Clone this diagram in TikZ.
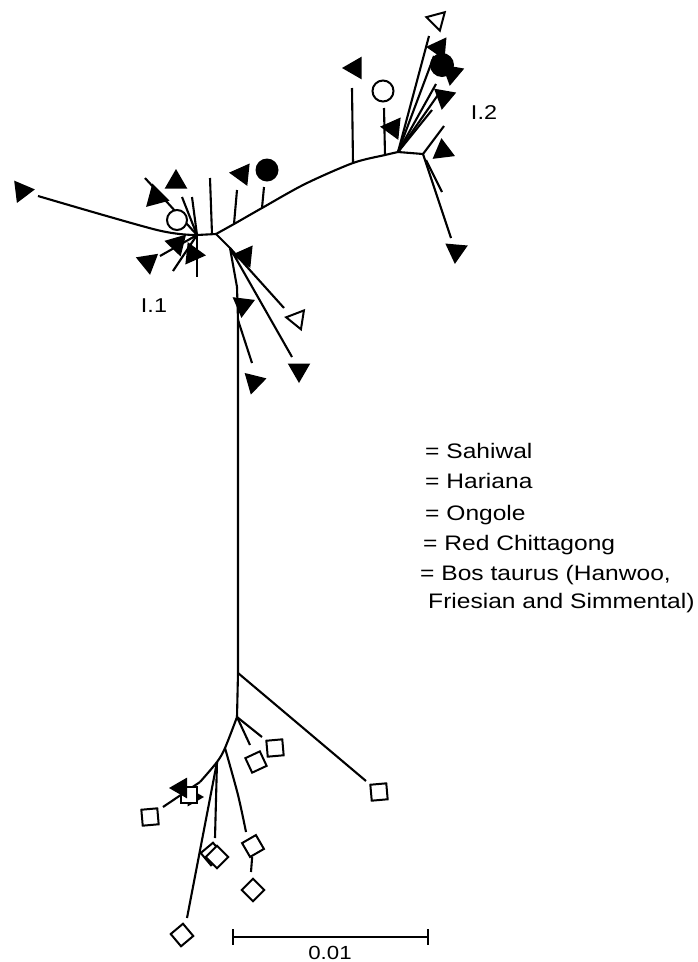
\documentclass[tikz,border=0pt]{standalone}
\usepackage{fontspec}
\setmainfont{Liberation Sans}
\usetikzlibrary{shapes.geometric}
\begin{document}
\begin{tikzpicture}[x=1pt,y=-1pt,
  br/.style={line width=2.1pt},
  tri/.style={regular polygon, regular polygon sides=3, minimum size=26pt, inner sep=0pt, fill=black},
  otri/.style={regular polygon, regular polygon sides=3, minimum size=22pt, inner sep=0pt, draw=black, line width=2pt, fill=white},
  fcirc/.style={circle, fill=black, minimum size=23pt, inner sep=0pt},
  ocirc/.style={circle, draw=black, line width=2pt, fill=white, minimum size=20pt, inner sep=0pt},
  osq/.style={rectangle, draw=black, line width=2pt, fill=white, minimum size=16pt, inner sep=0pt},
  leg/.style={font=\fontsize{21}{25}\selectfont, inner sep=0pt, xscale=1.17, anchor=base west},
  lab/.style={font=\fontsize{20}{24}\selectfont, inner sep=0pt, xscale=1.17}
]
\useasboundingbox (0,0) rectangle (697,962);
% ---------- coordinates: cluster I.1 ----------
\coordinate (a) at (197,235);
\coordinate (b) at (216,234);
\coordinate (l1m) at (157,230);
\coordinate (l1) at (38,196);
\coordinate (l2) at (145,178);
\coordinate (l3) at (182,197);
\coordinate (l4) at (192,197);
\coordinate (l5) at (160,256);
\coordinate (l6) at (173,271);
\coordinate (l7) at (197,277);
\coordinate (l8b) at (212,234);
\coordinate (l8) at (210,178);
% ---------- branch towards I.2 ----------
\coordinate (u1) at (234,224);
\coordinate (u1e) at (237,190);
\coordinate (u2) at (262,208);
\coordinate (u2e) at (264,187);
\coordinate (u2m) at (305,184);
\coordinate (u3) at (353,163);
\coordinate (u3e) at (352,88);
\coordinate (u4) at (385,155);
\coordinate (u4e) at (384,108);
\coordinate (h2) at (398,152);
\coordinate (h3) at (423,154);
\coordinate (m1) at (429,36);
\coordinate (m2) at (434,56);
\coordinate (m3) at (436,84);
\coordinate (m4) at (440,92);
\coordinate (m5) at (432,110);
\coordinate (n1) at (444,126);
\coordinate (n2) at (451,238);
\coordinate (n3s) at (426,160);
\coordinate (n3) at (442,192);
% ---------- trunk ----------
\coordinate (d1) at (230,248);
\coordinate (d2) at (237,287);
\coordinate (d3) at (238,320);
\coordinate (d4) at (238,673);
\coordinate (k1) at (284,308);
\coordinate (k2) at (292,357);
\coordinate (k3) at (252,363);
% ---------- bottom cluster ----------
\coordinate (e1) at (237,717);
\coordinate (e0) at (366,781);
\coordinate (e2) at (262,737);
\coordinate (e3) at (250,745);
\coordinate (f1) at (225,748);
\coordinate (f2) at (217,762);
\coordinate (f3) at (200,782);
\coordinate (g1) at (163,807);
\coordinate (g2) at (215,838);
\coordinate (g3) at (187,918);
\coordinate (g4m) at (238,795);
\coordinate (g4) at (246,832);
\coordinate (g5) at (251,872);
% ---------- branches ----------
\draw[br] plot[smooth] coordinates {(l1) (l1m) (a)};
\draw[br] (a) -- (l2);
\draw[br] (a) -- (l3);
\draw[br] (a) -- (l4);
\draw[br] (a) -- (l5);
\draw[br] (a) -- (l6);
\draw[br] (a) -- (l7);
\draw[br] (a) -- (b);
\draw[br] (l8b) -- (l8);
\draw[br] plot[smooth, tension=0.5] coordinates {(b) (u1) (u2) (u2m) (u3) (u4) (h2)};
\draw[br] (h2) -- (h3);
\draw[br] (u1) -- (u1e);
\draw[br] (u2) -- (u2e);
\draw[br] (u3) -- (u3e);
\draw[br] (u4) -- (u4e);
\draw[br] (h2) -- (m1);
\draw[br] (h2) -- (m2);
\draw[br] (h2) -- (m3);
\draw[br] (h2) -- (m4);
\draw[br] (h2) -- (m5);
\draw[br] (h3) -- (n1);
\draw[br] (h3) -- (n2);
\draw[br] (n3s) -- (n3);
\draw[br] (b) -- (d1) -- (d2) -- (d3) -- (d4) -- (e1);
\draw[br] (d1) -- (k1);
\draw[br] (d1) -- (k2);
\draw[br] (d3) -- (k3);
\draw[br] (d4) -- (e0);
\draw[br] (e1) -- (e2);
\draw[br] (e1) -- (e3);
\draw[br] plot[smooth] coordinates {(e1) (f1) (f2) (f3)};
\draw[br] (f3) -- (g1);
\draw[br] (f2) -- (g2);
\draw[br] (f2) -- (g3);
\draw[br] plot[smooth] coordinates {(f1) (g4m) (g4)};
% ---------- markers I.1 ----------
\node[tri, rotate=-83] (t1) at (22,191) {};
\node[tri, rotate=0] (t2) at (176,182) {};
\node[tri, rotate=-105, minimum size=28pt] (t3) at (156,197) {};
\node[ocirc] (c1) at (177,220) {};
\node[tri, rotate=76] (t4) at (177,244) {};
\node[tri, rotate=-96] (t5) at (193,254) {};
\node[tri, rotate=-171] (t6) at (148,262) {};
\node[tri, rotate=84] (t7) at (242,174) {};
\node[fcirc] (c2) at (267,170) {};
\node[tri, rotate=84] (t8) at (245,256) {};
\node[tri, rotate=173] (t9) at (243,305) {};
\node[otri, rotate=81] (t10) at (297,319) {};
\node[tri, rotate=180] (t11) at (299,370) {};
\node[tri, rotate=166] (t12) at (254,382) {};
% ---------- markers I.2 ----------
\node[tri, rotate=90] (t13) at (355,68) {};
\node[ocirc, minimum size=21pt] (c3) at (383,91) {};
\node[tri, rotate=84] (t14) at (393,128) {};
\node[otri, rotate=-165] (t15) at (437,20) {};
\node[tri, rotate=85] (t16) at (439,48) {};
\node[tri, rotate=170] (t17) at (452,73) {};
\node[fcirc, minimum size=24pt] (c4) at (442,65) {};
\node[tri, rotate=170] (t18) at (444,97) {};
\node[tri, rotate=-113] (t19) at (443,151) {};
\node[tri, rotate=175] (t20) at (456,251) {};
% ---------- markers bottom ----------
\node[tri, rotate=-90, minimum size=22pt] (t22) at (193,797) {};
\node[osq] (s4) at (189,795) {};
\node[tri, rotate=90, minimum size=24pt] (t21) at (181,788) {};
\node[osq, rotate=5] (s1) at (379,792) {};
\node[osq, rotate=5] (s2) at (275,748) {};
\node[osq, rotate=25] (s3) at (256,762) {};
\node[osq, rotate=5] (s5) at (150,817) {};
\node[osq, rotate=40] (d1a) at (212,854) {};
\node[osq, rotate=45] (d1b) at (217,857) {};
\node[osq, rotate=30] (dd2) at (253,846) {};
\node[osq, rotate=45] (dd3) at (253,890) {};
\node[osq, rotate=40] (dd4) at (182,935) {};
\draw[br] (dd2) -- (g5);
% ---------- labels ----------
\node[lab] (lab1) at (154,306) {I.1};
\node[lab] (lab2) at (484,113) {I.2};
% ---------- legend ----------
\node[leg] (lg1) at (425,458) {= Sahiwal};
\node[leg] (lg2) at (425,488) {= Hariana};
\node[leg] (lg3) at (425,520) {= Ongole};
\node[leg] (lg4) at (423,550) {= Red Chittagong};
\node[leg] (lg5) at (420,580) {= Bos taurus (Hanwoo,};
\node[leg] (lg6) at (428,608) {Friesian and Simmental)};
% ---------- scale bar ----------
\coordinate (sb1) at (233,937);
\coordinate (sb2) at (428,937);
\coordinate (sb1t) at (233,929);
\coordinate (sb1b) at (233,945);
\coordinate (sb2t) at (428,929);
\coordinate (sb2b) at (428,945);
\draw[br] (sb1) -- (sb2);
\draw[br] (sb1t) -- (sb1b);
\draw[br] (sb2t) -- (sb2b);
\node[lab, font=\fontsize{19}{22}\selectfont, anchor=base] (sbl) at (330,959) {0.01};
\end{tikzpicture}
\end{document}
